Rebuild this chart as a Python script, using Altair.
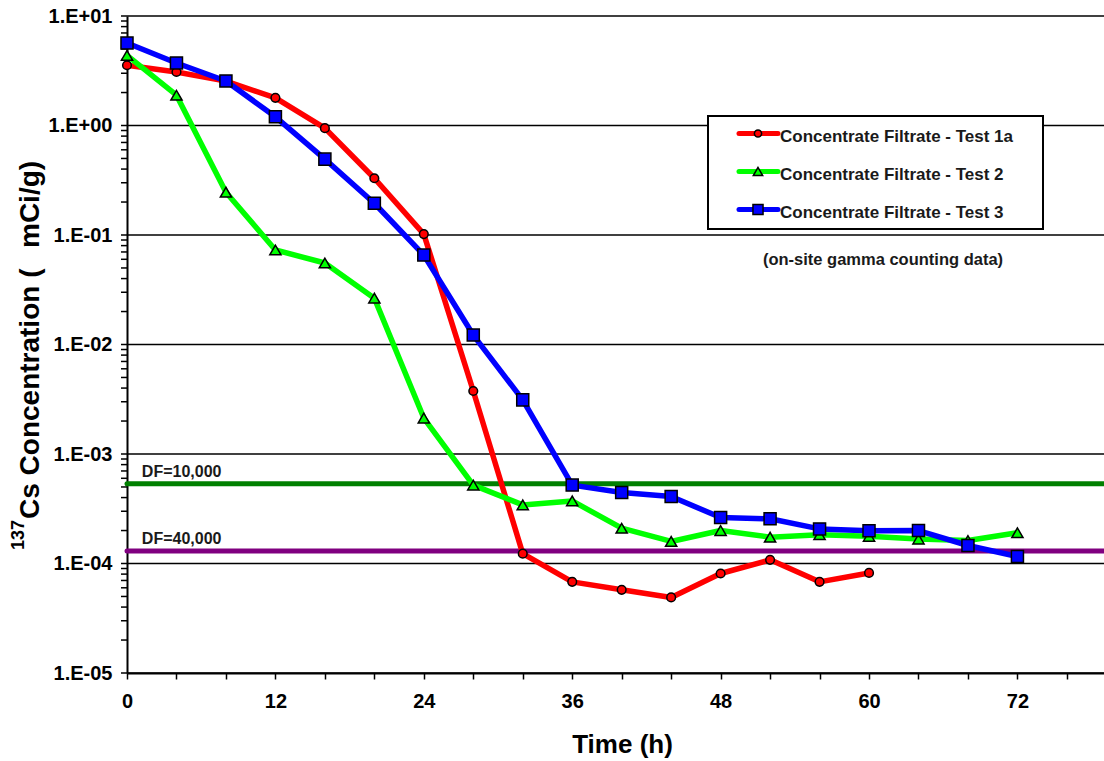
import altair as alt
import pandas as pd

# ---------------- data ----------------
hours_1a = [0, 4, 8, 12, 16, 20, 24, 28, 32, 36, 40, 44, 48, 52, 56, 60]
test_1a = [3.55, 3.08, 2.54, 1.79, 0.945, 0.33, 0.102, 0.00376, 1.23e-4, 6.8e-5,
           5.75e-5, 4.9e-5, 8.1e-5, 1.08e-4, 6.8e-5, 8.2e-5]

hours_2 = [0, 4, 8, 12, 16, 20, 24, 28, 32, 36, 40, 44, 48, 52, 56, 60, 64, 68, 72]
test_2 = [4.37, 1.89, 0.246, 0.073, 0.0555, 0.0265, 2.13e-3, 5.2e-4, 3.43e-4, 3.73e-4,
          2.1e-4, 1.59e-4, 2.0e-4, 1.74e-4, 1.83e-4, 1.77e-4, 1.67e-4, 1.62e-4, 1.91e-4]

hours_3 = [0, 4, 8, 12, 16, 20, 24, 28, 32, 36, 40, 44, 48, 52, 56, 60, 64, 68, 72]
test_3 = [5.67, 3.72, 2.55, 1.2, 0.493, 0.195, 0.0656, 0.0122, 0.00312, 5.2e-4,
          4.45e-4, 4.09e-4, 2.63e-4, 2.56e-4, 2.07e-4, 1.99e-4, 2.0e-4, 1.46e-4, 1.16e-4]

series_names = ["Concentrate Filtrate - Test 1a",
                "Concentrate Filtrate - Test 2",
                "Concentrate Filtrate - Test 3"]

df_labels = ["DF=10,000", "DF=40,000"]
df_values = [5.35e-4, 1.30e-4]
df_label_hour = 1.2

decades = [10, 1, 0.1, 0.01, 0.001, 1e-4, 1e-5]
x_tick_values = list(range(0, 80, 4))
note_text = "(on-site gamma counting data)"

# ---------------- styles ----------------
FONT = "Liberation Sans"
styles = [
    dict(color="#FF0000", shape="circle", size=75),
    dict(color="#00FF00", shape="triangle-up", size=125),
    dict(color="#0000FF", shape="square", size=145),
]
df_colors = ["#008000", "#800080"]

minor_mult = [2, 3, 4, 5, 6, 7, 8, 9]
y_tick_values = decades + [m * 10.0 ** k for k in range(-5, 1) for m in minor_mult]

x_scale = alt.Scale(domain=[0, 79], nice=False, zero=False)
y_scale = alt.Scale(type="log", domain=[1e-5, 10], nice=False)

x_axis = alt.Axis(
    values=x_tick_values,
    labelExpr="datum.value % 12 == 0 ? datum.label : ''",
    title="Time (h)", titleFont=FONT, titleFontSize=26, titleFontWeight="bold",
    titleColor="black", titleX=495, titleY=79, titleBaseline="alphabetic",
    labelFont=FONT, labelFontSize=20, labelFontWeight="bold", labelColor="black",
    labelPadding=12, labelFlush=False, labelOverlap=False,
    tickSize=6, tickWidth=1.5, tickColor="black",
    domainColor="black", domainWidth=2, grid=False,
)
y_axis = alt.Axis(
    values=decades,
    labelExpr=("'1.E' + (round(log(datum.value)/LN10) >= 0 ? '+0' : '-0') + "
               "abs(round(log(datum.value)/LN10))"),
    title=None,
    labelFont=FONT, labelFontSize=20, labelFontWeight="bold", labelColor="black",
    labelPadding=15, labelOverlap=False, ticks=False,
    domainColor="black", domainWidth=2, grid=False,
)

one = pd.DataFrame({"k": [0]})

layers = []

# horizontal gridlines at decades
grid_df = pd.DataFrame({"value": decades})
layers.append(
    alt.Chart(grid_df).mark_rule(color="black", strokeWidth=1.5).encode(
        y=alt.Y("value:Q", scale=y_scale, axis=y_axis)
    )
)

# y-axis major and minor tick marks, drawn to the left of the axis line
tick_df = pd.DataFrame({"value": y_tick_values})
layers.append(
    alt.Chart(tick_df).mark_tick(color="black", thickness=1.5, size=6,
                                 orient="horizontal", opacity=1).encode(
        y=alt.Y("value:Q", scale=y_scale, axis=y_axis),
        x=alt.value(-3),
    )
)

# DF reference lines and their labels
for lab, val, col in zip(df_labels, df_values, df_colors):
    d = pd.DataFrame({"value": [val], "hour": [df_label_hour], "label": [lab]})
    layers.append(
        alt.Chart(d).mark_rule(color=col, strokeWidth=5, strokeCap="round").encode(
            y=alt.Y("value:Q", scale=y_scale, axis=y_axis)
        )
    )
    layers.append(
        alt.Chart(d).mark_text(align="left", baseline="alphabetic", dy=-7,
                               font=FONT, fontSize=16, fontWeight="bold",
                               color="#1a1a1a").encode(
            x=alt.X("hour:Q", scale=x_scale, axis=x_axis),
            y=alt.Y("value:Q", scale=y_scale, axis=y_axis),
            text="label:N",
        )
    )

# the three series
for name, hrs, vals, st in zip(series_names, [hours_1a, hours_2, hours_3],
                               [test_1a, test_2, test_3], styles):
    d = pd.DataFrame({"hour": hrs, "value": vals, "series": name})
    enc = dict(x=alt.X("hour:Q", scale=x_scale, axis=x_axis),
               y=alt.Y("value:Q", scale=y_scale, axis=y_axis))
    layers.append(alt.Chart(d).mark_line(color=st["color"], strokeWidth=5.5,
                                         strokeJoin="round").encode(**enc))
    layers.append(alt.Chart(d).mark_point(shape=st["shape"], size=st["size"],
                                          filled=True, fill=st["color"],
                                          stroke="black", strokeWidth=1.5,
                                          opacity=1).encode(**enc))

# legend box (pixel positions relative to the plot area)
layers.append(
    alt.Chart(one).mark_rect(fill="white", stroke="black", strokeWidth=2).encode(
        x=alt.value(581), x2=alt.value(916), y=alt.value(100), y2=alt.value(213)
    )
)
for i, (name, st) in enumerate(zip(series_names, styles)):
    ry = 117.5 + 38 * i
    layers.append(
        alt.Chart(one).mark_rule(color=st["color"], strokeWidth=5, strokeCap="round").encode(
            x=alt.value(612), x2=alt.value(651), y=alt.value(ry)
        )
    )
    layers.append(
        alt.Chart(one).mark_point(shape=st["shape"], size=st["size"] * 0.7, filled=True,
                                  fill=st["color"], stroke="black", strokeWidth=1.5,
                                  opacity=1).encode(
            x=alt.value(631), y=alt.value(ry)
        )
    )
    layers.append(
        alt.Chart(one).mark_text(text=name, align="left", baseline="middle",
                                 font=FONT, fontSize=17, fontWeight="bold",
                                 color="#1a1a1a").encode(
            x=alt.value(653), y=alt.value(ry + 3)
        )
    )
layers.append(
    alt.Chart(one).mark_text(text=note_text, align="center", baseline="alphabetic",
                             font=FONT, fontSize=16.5, fontWeight="bold",
                             color="#1a1a1a").encode(
        x=alt.value(756), y=alt.value(249)
    )
)

# y-axis title with superscript mass number
layers.append(
    alt.Chart(one).mark_text(text="Cs Concentration (", angle=270, align="left",
                             baseline="alphabetic", font=FONT, fontSize=28,
                             fontWeight="bold", color="black").encode(
        x=alt.value(-88), y=alt.value(503)
    )
)
layers.append(
    alt.Chart(one).mark_text(text="137", angle=270, align="right",
                             baseline="alphabetic", font=FONT, fontSize=18,
                             fontWeight="bold", color="black").encode(
        x=alt.value(-103), y=alt.value(504)
    )
)
layers.append(
    alt.Chart(one).mark_text(text="mCi/g)", angle=270, align="left",
                             baseline="alphabetic", font=FONT, fontSize=28,
                             fontWeight="bold", color="black").encode(
        x=alt.value(-88), y=alt.value(232)
    )
)

chart = alt.layer(*layers).properties(
    width=977, height=657,
    autosize=alt.AutoSizeParams(type="none"),
    padding={"left": 127, "top": 16, "right": 0, "bottom": 88},
    background="white",
).configure_view(stroke=None)

chart.save("out.html", embed_options={"renderer": "svg", "actions": False})
